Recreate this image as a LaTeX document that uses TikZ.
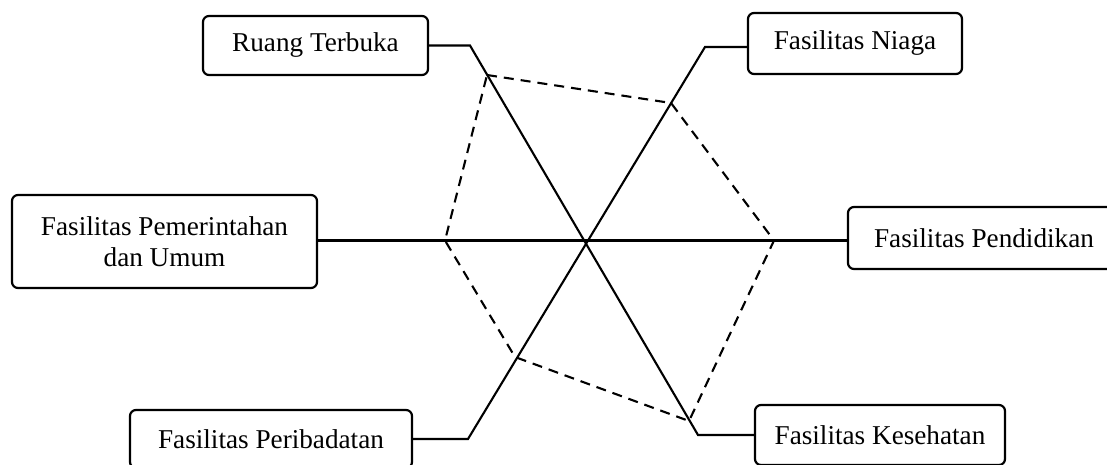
\documentclass[tikz,border=0pt]{standalone}
\usepackage{fontspec}
\setmainfont{Liberation Serif}
\begin{document}
\begin{tikzpicture}[x=1pt,y=-1pt,
  boxnode/.style={draw=black, line width=2.2pt, rounded corners=6pt, inner sep=0pt,
    align=center, font=\fontsize{27.2}{31}\selectfont},
  conn/.style={line width=2.1pt, black},
  hexline/.style={line width=2.1pt, black, dash pattern=on 10pt off 7pt}]
\useasboundingbox (0,0) rectangle (1107,465);

\node[boxnode, minimum width=225pt, minimum height=59pt] (R) at (315.5,45.5) {Ruang Terbuka};
\node[boxnode, minimum width=214pt, minimum height=61pt] (N) at (855,43.5) {Fasilitas Niaga};
\node[boxnode, minimum width=305pt, minimum height=93pt] (G) at (164.5,241.5) {Fasilitas Pemerintahan\\dan Umum};
\node[boxnode, minimum width=272pt, minimum height=62pt] (D) at (984,238) {Fasilitas Pendidikan};
\node[boxnode, minimum width=282pt, minimum height=58pt] (P) at (271,439) {Fasilitas Peribadatan};
\node[boxnode, minimum width=250pt, minimum height=60pt] (K) at (880,435) {Fasilitas Kesehatan};

\coordinate (r1) at (470,45.5);
\coordinate (r2) at (698,435);
\coordinate (n1) at (705,47);
\coordinate (n2) at (468,439);

\draw[conn] (R.east) -- (r1) -- (r2) -- (K.west);
\draw[conn] (N.west |- n1) -- (n1) -- (n2) -- (P.east);
\draw[conn] (G.east |- 0,240.5) -- (D.west |- 0,240.5);

\coordinate (h1) at (487,75);
\coordinate (h2) at (671,103);
\coordinate (h3) at (774,240.5);
\coordinate (h4) at (689,421);
\coordinate (h5) at (515,357);
\coordinate (h6) at (445,240.5);
\draw[hexline] (h1) -- (h2) -- (h3) -- (h4) -- (h5) -- (h6) -- cycle;
\end{tikzpicture}
\end{document}
